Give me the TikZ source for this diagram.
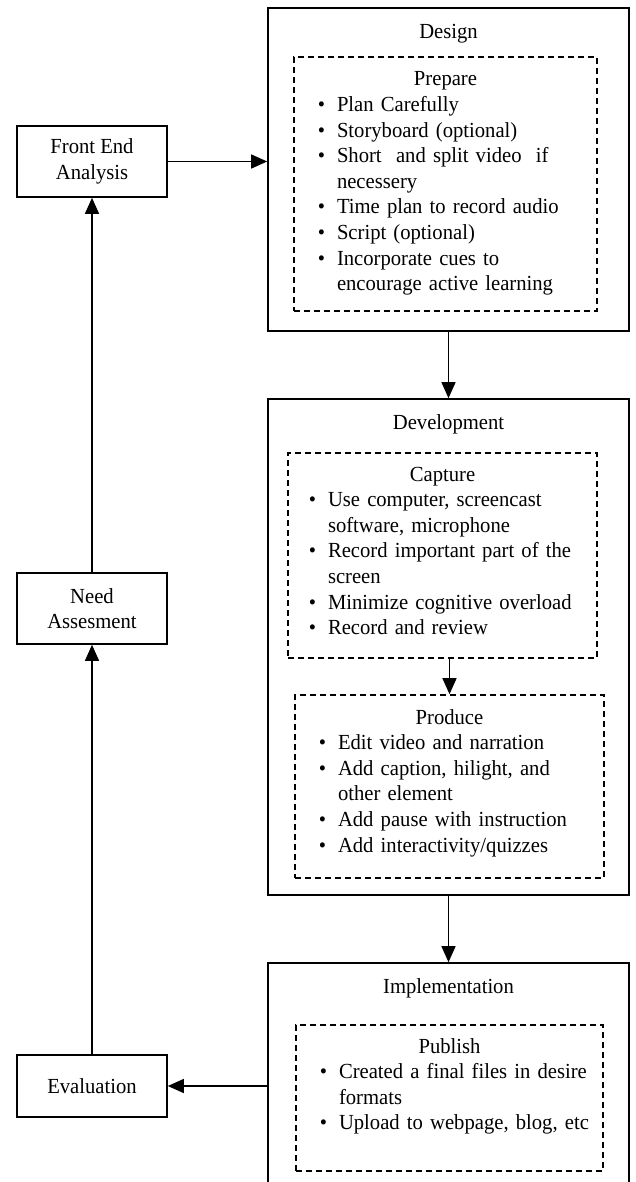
\documentclass[tikz,border=0pt]{standalone}
\usepackage{fontspec}
\setmainfont{Liberation Serif}[FakeStretch=0.96]
\usepackage{enumitem}
\usetikzlibrary{arrows.meta}

\setlist[itemize]{label=\textbullet, leftmargin=39pt, labelsep=12pt, itemsep=0pt, parsep=0pt, topsep=0pt, partopsep=0pt}

\tikzset{
  phase/.style={draw, line width=1.6pt, inner sep=0pt, minimum width=361pt},
  side/.style={draw, line width=1.6pt, inner sep=0pt, minimum width=150pt, minimum height=71pt, align=center},
  task/.style={draw, dash pattern=on 6pt off 4pt, line width=1.6pt, inner sep=0pt},
  tasktext/.style={anchor=base, inner sep=0pt, text width=#1},
  flow/.style={-{Triangle[length=16pt,width=14pt]}, line width=1.3pt}
}

\begin{document}
\begin{tikzpicture}[x=1pt, y=-1pt, font=\fontsize{21.5}{25.6}\selectfont]
\useasboundingbox (0,0) rectangle (635,1182);
\clip (0,0) rectangle (635,1182);

% left column
\node[side] (fe) at (92,161.5) {Front End\\Analysis};
\node[side] (need) at (92,608.5) {Need\\Assesment};
\node[side, minimum height=62pt] (eval) at (92,1086) {Evaluation};

% right column
\node[phase, minimum height=323pt] (design) at (448.5,169.5) {};
\node[phase, minimum height=496pt] (dev) at (448.5,647) {};
\node[phase, minimum height=237pt] (impl) at (448.5,1081.5) {};
\node[anchor=base] (designlbl) at (448.5,39) {Design};
\node[anchor=base] (devlbl) at (448.5,429) {Development};
\node[anchor=base] (impllbl) at (448.5,993) {Implementation};

% dashed tasks
\node[task, minimum width=303pt, minimum height=254pt] (prepare) at (445.5,184) {};
\node[tasktext=295pt] (preparetxt) at (445.5,86) {{\centering Prepare\par}\raggedright
\begin{itemize}
\item Plan Carefully
\item Storyboard (optional)
\item Short~ and split video~ if\\necessery
\item Time plan to record audio
\item Script (optional)
\item Incorporate cues to\\encourage active learning
\end{itemize}};

\node[task, minimum width=309pt, minimum height=205pt] (capture) at (442.5,555.5) {};
\node[tasktext=301pt] (capturetxt) at (442.5,481) {{\centering Capture\par}\raggedright
\begin{itemize}[leftmargin=36pt]
\item Use computer, screencast\\software, microphone
\item Record important part of the\\screen
\item Minimize cognitive overload
\item Record and review
\end{itemize}};

\node[task, minimum width=309pt, minimum height=183pt] (produce) at (449.5,786.5) {};
\node[tasktext=301pt] (producetxt) at (449.5,724) {{\centering Produce\par}\raggedright
\begin{itemize}
\item Edit video and narration
\item Add caption, hilight, and\\other element
\item Add pause with instruction
\item Add interactivity/quizzes
\end{itemize}};

\node[task, minimum width=307pt, minimum height=146pt] (publish) at (449.5,1098) {};
\node[tasktext=299pt] (publishtxt) at (449.5,1053) {{\centering Publish\par}\raggedright
\begin{itemize}
\item Created a final files in desire\\formats
\item Upload to webpage, blog, etc
\end{itemize}};

% arrows
\draw[flow] (fe.east) -- (fe.east -| design.west);
\draw[flow] (design.south) -- (dev.north);
\draw[flow] (capture.south -| produce.north) -- (produce.north);
\draw[flow] (dev.south) -- (impl.north);
\draw[flow] (eval.east -| impl.west) -- (eval.east);
\draw[flow] (eval.north) -- (need.south);
\draw[flow] (need.north) -- (fe.south);
\end{tikzpicture}
\end{document}
